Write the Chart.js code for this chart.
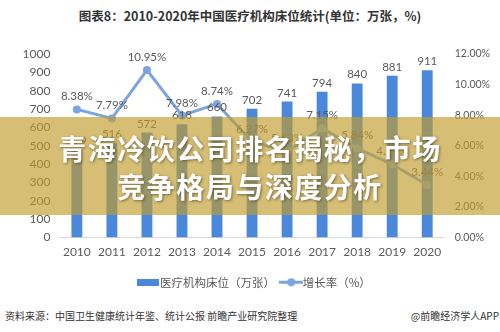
<!DOCTYPE html>
<html>
<head>
<meta charset="utf-8">
<script src="https://cdn.jsdelivr.net/npm/chart.js@4"></script>
<style>
  html, body { margin: 0; padding: 0; background: #fff; }
  body { width: 500px; height: 332px; position: relative; overflow: hidden;
         font-family: "Noto Sans", "Noto Sans CJK SC", sans-serif; }
  #title { position: absolute; left: 0; top: 6px; width: 500px; text-align: center;
           font: bold 12.5px "Noto Sans CJK SC", sans-serif; color: #333; }
  #wrap { position: absolute; left: 0; top: 0; width: 500px; height: 305px; }
  #banner { position: absolute; left: 0; top: 117px; width: 500px; height: 98px;
            background: rgba(193, 156, 45, 0.66); }
  #banner div { position: absolute; left: 0; width: 500px; text-align: center; color: #fff;
                font: bold 28px "Noto Sans CJK SC", sans-serif; letter-spacing: 1.5px;
                text-shadow: 1px 1px 3px rgba(60, 50, 20, 0.6); line-height: 1; }
  #src { position: absolute; left: 5px; top: 308px; font: 10px "Noto Sans CJK SC", sans-serif; color: #333; }
  #app { position: absolute; right: 1px; top: 308px; font: 10px "Noto Sans CJK SC", sans-serif; color: #333; }
</style>
</head>
<body>
<div id="title">图表8：2010-2020年中国医疗机构床位统计(单位：万张，%)</div>
<div id="wrap"><canvas id="chartRanjang" width="500" height="305"></canvas></div>
<div id="banner">
  <div style="top:17px">青海冷饮公司排名揭秘，市场</div>
  <div style="top:55px">竞争格局与深度分析</div>
</div>
<div id="src">资料来源：中国卫生健康统计年鉴、统计公报 前瞻产业研究院整理</div>
<div id="app">@前瞻经济学人APP</div>

<script>
// === DATA ===
const tahun = ['2010', '2011', '2012', '2013', '2014', '2015', '2016', '2017', '2018', '2019', '2020'];
const jumlahRanjang = [479, 516, 572, 618, 660, 702, 741, 794, 840, 881, 911];
const pertumbuhan = [8.38, 7.79, 10.95, 7.98, 8.74, 6.27, 5.63, 7.15, 5.84, 4.79, 3.44];
const labelBar = '医疗机构床位（万张）';
const labelLine = '增长率（%）';

const BIRU = '#4a88dc';
const BIRU_MUDA = '#7ba4e0';
const ABU = '#595959';
const FONT_ANGKA = 'Lato, "Noto Sans", sans-serif';

// === IKON LEGENDA ===
function ikonBar() {
  const c = document.createElement('canvas');
  c.width = 22; c.height = 7;
  const g = c.getContext('2d');
  g.fillStyle = BIRU;
  g.fillRect(0, 0, 22, 7);
  return c;
}
function ikonLine() {
  const c = document.createElement('canvas');
  c.width = 24; c.height = 9;
  const g = c.getContext('2d');
  g.strokeStyle = BIRU_MUDA; g.lineWidth = 3;
  g.beginPath(); g.moveTo(0, 4.5); g.lineTo(24, 4.5); g.stroke();
  g.fillStyle = BIRU_MUDA;
  g.beginPath(); g.arc(12, 4.5, 4, 0, Math.PI * 2); g.fill();
  return c;
}

// === LABEL NILAI ===
const labelNilai = {
  id: 'labelNilai',
  afterDatasetsDraw(chart) {
    const ctx = chart.ctx;
    ctx.save();
    ctx.font = '11.5px ' + FONT_ANGKA;
    ctx.fillStyle = ABU;
    ctx.textAlign = 'center';
    ctx.textBaseline = 'alphabetic';
    chart.getDatasetMeta(0).data.forEach((el, i) => {
      ctx.fillText(jumlahRanjang[i], el.x, el.y - 5);
    });
    chart.getDatasetMeta(1).data.forEach((el, i) => {
      ctx.fillText(pertumbuhan[i].toFixed(2) + '%', el.x, el.y - 9);
    });
    ctx.restore();
  }
};

// === CHART ===
const ctx = document.getElementById('chartRanjang').getContext('2d');
const chart = new Chart(ctx, {
  type: 'bar',
  data: {
    labels: tahun,
    datasets: [{
      type: 'bar',
      label: labelBar,
      data: jumlahRanjang,
      backgroundColor: BIRU,
      barPercentage: 0.62,
      categoryPercentage: 0.5,
      yAxisID: 'y',
      order: 2
    }, {
      type: 'line',
      label: labelLine,
      data: pertumbuhan,
      borderColor: BIRU_MUDA,
      backgroundColor: BIRU_MUDA,
      borderWidth: 3,
      pointRadius: 4,
      pointBackgroundColor: BIRU_MUDA,
      pointBorderWidth: 0,
      tension: 0,
      yAxisID: 'y1',
      order: 1
    }]
  },
  options: {
    responsive: false,
    animation: false,
    devicePixelRatio: 1,
    layout: { padding: { top: 54, left: 13.5, right: 0, bottom: 7 } },
    plugins: {
      tooltip: { enabled: false },
      legend: {
        position: 'bottom',
        labels: {
          usePointStyle: true,
          color: ABU,
          font: { size: 11.5, family: '"Noto Sans CJK SC", sans-serif' },
          padding: 10.5,
          generateLabels: () => [
            { text: labelBar, pointStyle: ikonBar(), fontColor: ABU, datasetIndex: 0 },
            { text: labelLine, pointStyle: ikonLine(), fontColor: ABU, datasetIndex: 1 }
          ]
        }
      }
    },
    scales: {
      x: {
        grid: { display: false, drawTicks: false },
        border: { color: '#d9d9d9' },
        ticks: { color: ABU, font: { size: 12, family: FONT_ANGKA }, padding: 7,
                 maxRotation: 0, minRotation: 0, autoSkip: false }
      },
      y: {
        position: 'left',
        min: 0, max: 1000,
        ticks: { stepSize: 100, color: ABU, font: { size: 12, family: FONT_ANGKA }, padding: 9,
                 callback: v => String(v) },
        grid: { display: false, drawTicks: false },
        border: { display: false }
      },
      y1: {
        position: 'right',
        min: 0, max: 12,
        ticks: { stepSize: 2, color: ABU, font: { size: 10.5, family: FONT_ANGKA }, padding: 10,
                 callback: v => v.toFixed(2) + '%' },
        grid: { display: false, drawTicks: false },
        border: { display: false }
      }
    }
  },
  plugins: [labelNilai]
});
</script>
</body>
</html>
